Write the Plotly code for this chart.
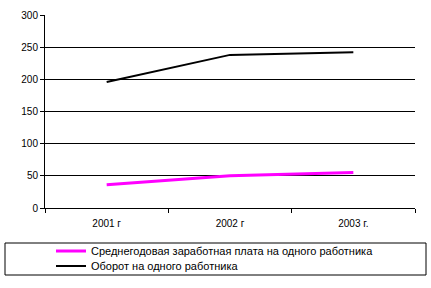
import plotly.graph_objects as go

years = ["2001 г", "2002 г", "2003 г."]
salary = [36, 50, 55]
turnover = [196, 238, 242]
series_names = ["Среднегодовая заработная плата на одного работника", "Оборот на одного работника"]

W, H = 431, 288
L, R, T, B = 45, 16, 15, 80
pw = W - L - R
ph = H - T - B

font = dict(family="Arial, Liberation Sans, sans-serif", size=10, color="#000000")
lfont = dict(family="Arial, Liberation Sans, sans-serif", size=11, color="#000000")

fig = go.Figure()
fig.add_trace(go.Scatter(x=years, y=salary, mode="lines", name=series_names[0],
                         line=dict(color="#FF00FF", width=3), legend="legend"))
fig.add_trace(go.Scatter(x=years, y=turnover, mode="lines", name=series_names[1],
                         line=dict(color="#000000", width=2), legend="legend2"))

def px_x(x):
    return (x - L) / pw

def px_y(y):
    return (H - B - y) / ph

def leg(yc):
    return dict(x=px_x(51), y=px_y(yc), xanchor="left", yanchor="middle",
                bgcolor="rgba(0,0,0,0)", borderwidth=0, font=lfont, itemwidth=30)

fig.update_layout(
    width=W, height=H,
    margin=dict(l=L, r=R, t=T, b=B, autoexpand=False),
    paper_bgcolor="white", plot_bgcolor="white",
    font=font,
    showlegend=True,
    legend=leg(251),
    legend2=leg(266),
    xaxis=dict(type="category", range=[-0.5, 2.5], showline=True, linecolor="black",
               linewidth=1, ticks="outside", tickson="boundaries", ticklen=4,
               tickcolor="black", showgrid=False, zeroline=False, fixedrange=True,
               tickfont=font, automargin=False, ticklabelstandoff=6),
    yaxis=dict(range=[0, 300], dtick=50, showline=True, linecolor="black", linewidth=1,
               ticks="outside", ticklen=4, tickcolor="black", showgrid=True,
               gridcolor="black", gridwidth=1, zeroline=False, fixedrange=True,
               tickfont=font, automargin=False),
    shapes=[dict(type="rect", xref="paper", yref="paper",
                 x0=px_x(5), x1=px_x(426), y0=px_y(243), y1=px_y(275),
                 line=dict(color="black", width=1), fillcolor="rgba(0,0,0,0)")],
)

fig.write_html("out.html")
